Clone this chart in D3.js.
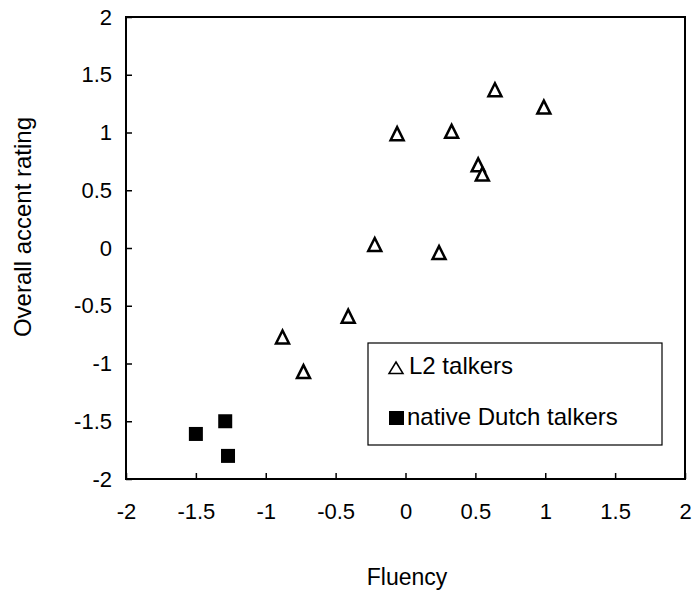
<!DOCTYPE html>
<html>
<head>
<meta charset="utf-8">
<script src="https://cdn.jsdelivr.net/npm/d3@7"></script>
<style>
  html, body { margin: 0; padding: 0; background: #fff; }
  svg text { font-family: "Liberation Sans", Arial, sans-serif; fill: #000; }
</style>
</head>
<body>
<svg id="chart" width="696" height="594"></svg>
<script>
// L2 talkers (open triangles)
const l2Fluency = [0.64, 0.99, -0.06, 0.33, 0.52, 0.55, -0.22, 0.24, -0.88, -0.73, -0.41];
const l2Accent  = [1.37, 1.22, 0.99, 1.01, 0.72, 0.64, 0.03, -0.04, -0.77, -1.07, -0.59];
// native Dutch talkers (filled squares)
const nativeFluency = [-1.50, -1.29, -1.27];
const nativeAccent  = [-1.61, -1.50, -1.80];

const xTicks = [-2, -1.5, -1, -0.5, 0, 0.5, 1, 1.5, 2];
const yTicks = [-2, -1.5, -1, -0.5, 0, 0.5, 1, 1.5, 2];
const legendLabels = ["L2 talkers", "native Dutch talkers"];

const svg = d3.select("#chart");
const plot = { left: 126, right: 685, top: 17, bottom: 479 };

const x = d3.scaleLinear().domain([-2, 2]).range([plot.left, plot.right]);
const y = d3.scaleLinear().domain([-2, 2]).range([plot.bottom, plot.top]);

// frame
svg.append("rect")
    .attr("x", plot.left)
    .attr("y", plot.top)
    .attr("width", plot.right - plot.left)
    .attr("height", plot.bottom - plot.top)
    .style("fill", "none")
    .style("stroke", "#000")
    .style("stroke-width", 2);

// axes, ticks pointing inward
const xAxis = d3.axisBottom(x)
    .tickValues(xTicks)
    .tickFormat(d => String(d))
    .tickSizeInner(-6)
    .tickSizeOuter(0)
    .tickPadding(24);
const yAxis = d3.axisLeft(y)
    .tickValues(yTicks)
    .tickFormat(d => String(d))
    .tickSizeInner(-6)
    .tickSizeOuter(0)
    .tickPadding(14);

const gx = svg.append("g")
    .attr("transform", `translate(0,${plot.bottom})`)
    .call(xAxis);
const gy = svg.append("g")
    .attr("transform", `translate(${plot.left},0)`)
    .call(yAxis);
[gx, gy].forEach(g => {
    g.select(".domain").remove();
    g.selectAll("line").style("stroke", "#000").style("stroke-width", 1.5);
    g.selectAll("text")
        .style("font-size", "22px")
        .style("font-family", "'Liberation Sans', Arial, sans-serif")
        .style("fill", "#000");
});

// axis titles
svg.append("text")
    .attr("x", 407)
    .attr("y", 585)
    .attr("text-anchor", "middle")
    .style("font-size", "23px")
    .text("Fluency");
svg.append("text")
    .attr("transform", `translate(31,227) rotate(-90)`)
    .attr("text-anchor", "middle")
    .style("font-size", "24px")
    .text("Overall accent rating");

// marker shapes
const tri = "M0,-6.5L6.5,6.5L-6.5,6.5Z";
const sq = 7;

const l2Data = l2Fluency.map((f, i) => ({ fx: f, ay: l2Accent[i] }));
const nativeData = nativeFluency.map((f, i) => ({ fx: f, ay: nativeAccent[i] }));

svg.append("g").selectAll("path")
    .data(l2Data)
    .enter()
    .append("path")
    .attr("d", tri)
    .attr("transform", d => `translate(${x(d.fx)},${y(d.ay)})`)
    .style("fill", "#fff")
    .style("stroke", "#000")
    .style("stroke-width", 2.5)
    .style("stroke-linejoin", "miter");

svg.append("g").selectAll("rect")
    .data(nativeData)
    .enter()
    .append("rect")
    .attr("x", d => x(d.fx) - sq)
    .attr("y", d => y(d.ay) - sq)
    .attr("width", sq * 2)
    .attr("height", sq * 2)
    .style("fill", "#000");

// legend
const legend = svg.append("g");
legend.append("rect")
    .attr("x", 368)
    .attr("y", 343)
    .attr("width", 294)
    .attr("height", 102)
    .style("fill", "#fff")
    .style("stroke", "#000")
    .style("stroke-width", 1.2);

legend.append("path")
    .attr("d", "M396,362L403,373.5L389,373.5Z")
    .style("fill", "none")
    .style("stroke", "#000")
    .style("stroke-width", 1.5);
legend.append("rect")
    .attr("x", 389)
    .attr("y", 411)
    .attr("width", 15)
    .attr("height", 14)
    .style("fill", "#000");

legend.selectAll("text")
    .data(legendLabels)
    .enter()
    .append("text")
    .attr("x", (d, i) => i === 0 ? 409 : 407)
    .attr("y", (d, i) => i === 0 ? 374 : 425)
    .style("font-size", "24px")
    .text(d => d);
</script>
</body>
</html>
